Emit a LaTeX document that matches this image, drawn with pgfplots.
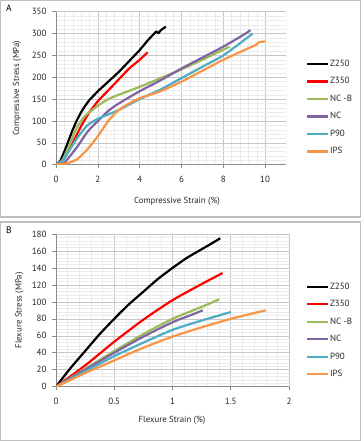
\documentclass[border=0pt]{standalone}
\usepackage{pgfplots}
\pgfplotsset{compat=1.18}
\usepackage{fontspec}
\setmainfont{PT Sans}
\definecolor{cZb}{HTML}{000000}
\definecolor{cZr}{HTML}{FF0000}
\definecolor{cNCB}{HTML}{9BBB59}
\definecolor{cNC}{HTML}{8064A2}
\definecolor{cP}{HTML}{4BACC6}
\definecolor{cI}{HTML}{F79646}
\definecolor{frame}{HTML}{BFBFBF}
\pgfplotsset{
  panel/.style={
    scale only axis, anchor=south west,
    grid=both,
    major grid style={draw=black!22, line width=0.6bp},
    minor grid style={draw=black!8, line width=0.4bp},
    axis x line*=bottom, axis y line*=left,
    axis line style={draw=black!45, line width=0.6bp},
    tick style={draw=black!45, line width=0.6bp},
    tick align=outside, major tick length=3.5bp, minor tick length=0pt,
    minor x tick num=4, minor y tick num=4,
    /pgf/number format/assume math mode=true,
    tick label style={font=\fontsize{9bp}{10bp}\selectfont, text=black!85},
    xticklabel style={yshift=-4bp},
    yticklabel style={xshift=-2.5bp},
    label style={font=\fontsize{8.8bp}{10bp}\selectfont, text=black!85},
    every axis plot/.append style={line width=2.2bp, no marks, line join=round, smooth, tension=0.4},
    legend style={draw=none, fill=none, inner sep=0pt, row sep=8.3bp,
      font=\fontsize{9bp}{10bp}\selectfont,
      nodes={inner sep=0.6bp, text height=6.5bp, text depth=1.5bp, text=black!85}},
    legend cell align=left,
    legend image code/.code={\draw[##1, sharp plot] (0bp,0bp) -- (21bp,0bp);},
  }
}
\begin{document}
\begin{tikzpicture}
\path[use as bounding box, fill=white] (0bp,0bp) rectangle (364bp,441bp);
\draw[frame, line width=1.2bp] (0.8bp,224bp) rectangle (360.5bp,440.4bp);
\draw[frame, line width=1.2bp] (0.8bp,0.6bp) rectangle (360.5bp,219bp);
\node[anchor=north west, font=\fontsize{9.5bp}{11bp}\selectfont, inner sep=0pt] at (6bp,436bp) {A};
\node[anchor=north west, font=\fontsize{9.5bp}{11bp}\selectfont, inner sep=0pt] at (6bp,214bp) {B};

\begin{axis}[panel, at={(56bp,276.3bp)}, width=230bp, height=153bp,
  xmin=0, xmax=11, ymin=0, ymax=350,
  xtick={0,2,...,10}, ytick={0,50,...,350},
  xlabel={Compressive Strain (\%)}, ylabel={Compressive Stress (MPa)},
  xlabel style={at={(axis description cs:0.526,-0.237)}, anchor=center},
  ylabel style={at={(axis description cs:-0.170,0.5)}, anchor=center},
  legend style={at={(axis description cs:1.087,0.690)}, anchor=north west},
]
\draw[black!22, line width=0.6bp] (rel axis cs:1,0) -- (rel axis cs:1,1);
\addplot[cZb, sharp plot] coordinates {(0,0) (0.2,8) (0.4,30) (0.6,55) (0.8,80) (1.0,102) (1.2,120) (1.4,135) (1.6,148) (2,168) (2.5,190) (3,212) (3.5,237) (4,262) (4.4,285) (4.7,300) (4.8,305) (4.9,301) (5.0,307) (5.25,316)};
\addlegendentry{Z250}
\addplot[cZr] coordinates {(0,0) (0.4,15) (0.8,50) (1.2,88) (1.6,120) (2,145) (2.5,170) (3,195) (3.5,220) (4,240) (4.38,257)};
\addlegendentry{Z350}
\addplot[cNCB] coordinates {(0,0) (0.3,10) (0.6,40) (1,85) (1.4,112) (2,135) (2.5,150) (3,160) (4,178) (5,198) (6,218) (7,240) (8,263) (8.3,270)};
\addlegendentry{NC -B}
\addplot[cNC] coordinates {(0,0) (0.4,5) (1,40) (1.5,75) (2,100) (2.5,123) (3,140) (4,168) (5,193) (6,220) (7,245) (8,270) (9,298) (9.3,308)};
\addlegendentry{NC}
\addplot[cP] coordinates {(0,0) (0.3,8) (0.6,30) (1,60) (1.5,90) (2,105) (2.5,115) (3,125) (4,150) (5,172) (6,198) (7,224) (8,250) (9,285) (9.4,300)};
\addlegendentry{P90}
\addplot[cI] coordinates {(0,0) (0.5,3) (1,12) (1.5,35) (2,65) (2.5,100) (3,125) (3.5,140) (4,152) (5,168) (6,190) (7,215) (8,240) (9,262) (9.6,275) (9.7,280) (10,282)};
\addlegendentry{IPS}
\end{axis}

\begin{axis}[panel, at={(56bp,54.3bp)}, width=233bp, height=152.7bp,
  xmin=0, xmax=2, ymin=0, ymax=180,
  xtick={0,0.5,...,2}, ytick={0,20,...,180},
  xticklabel style={/pgf/number format/fixed},
  xlabel={Flexure Strain (\%)}, ylabel={Flexure Stress (MPa)},
  xlabel style={at={(axis description cs:0.498,-0.218)}, anchor=center},
  ylabel style={at={(axis description cs:-0.157,0.5)}, anchor=center},
  legend style={at={(axis description cs:1.073,0.686)}, anchor=north west},
]
\addplot[cZb] coordinates {(0,0) (0.125,22) (0.25,42) (0.375,62) (0.5,80) (0.625,97) (0.75,112) (0.875,127) (1,140) (1.125,152) (1.25,162) (1.35,170) (1.41,175)};
\addlegendentry{Z250}
\addplot[cZr] coordinates {(0,0) (0.25,25) (0.5,53) (0.75,79) (1,102) (1.25,121) (1.43,134)};
\addlegendentry{Z350}
\addplot[cNCB] coordinates {(0,0) (0.25,21) (0.5,42) (0.75,62) (1,80) (1.25,94) (1.40,103)};
\addlegendentry{NC -B}
\addplot[cNC] coordinates {(0,0) (0.25,20) (0.5,40) (0.75,59) (1,76) (1.15,84) (1.26,90)};
\addlegendentry{NC}
\addplot[cP] coordinates {(0,0) (0.25,18) (0.5,36) (0.75,52) (1,67) (1.25,78) (1.5,88)};
\addlegendentry{P90}
\addplot[cI] coordinates {(0,0) (0.25,16) (0.5,31) (0.75,46) (1,59) (1.25,70) (1.5,80) (1.8,90)};
\addlegendentry{IPS}
\end{axis}
\end{tikzpicture}
\end{document}
